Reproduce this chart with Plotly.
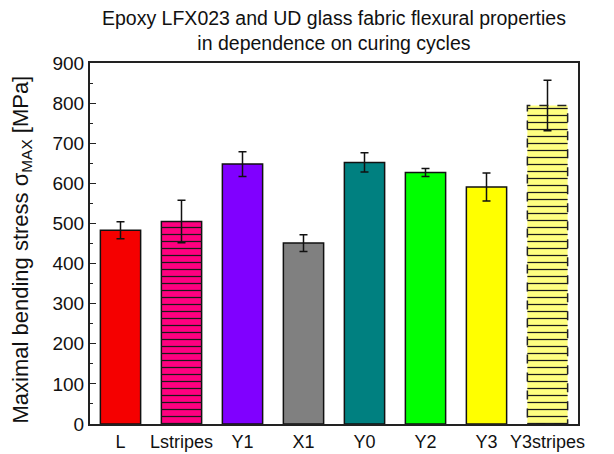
import plotly.graph_objects as go

categories = ["L", "Lstripes", "Y1", "X1", "Y0", "Y2", "Y3", "Y3stripes"]
values = [483, 505, 648, 451, 652, 627, 591, 794]
errors = [21, 53, 31, 21, 24, 10, 35, 63]
colors = ["#F50000", "#FF0080", "#8000FF", "#808080", "#008080", "#00FF00", "#FFFF00", "#FFFF80"]
striped = [False, True, False, False, False, False, False, True]
dashed = [False, False, False, False, False, False, False, True]
y_ticks = [0, 100, 200, 300, 400, 500, 600, 700, 800, 900]
title_text = "Epoxy LFX023 and UD glass fabric flexural properties<br>in dependence on curing cycles"
ytitle_text = "Maximal bending stress σ<sub>MAX</sub> [MPa]"

bar_w = 0.66
xs = list(range(len(categories)))

OFF = 8  # page body margin
W, H = 614 - OFF, 454 - OFF
L, R, T, B = 90 - OFF, 36, 63 - OFF, 30
pw, ph = W - L - R, H - T - B

fig = go.Figure()
fig.add_trace(go.Bar(
    x=xs, y=values, width=bar_w,
    marker=dict(
        color=colors,
        line=dict(color=["rgba(0,0,0,0)" if d else "#111" for d in dashed], width=1.5),
    ),
    showlegend=False,
))

# horizontal stripe overlay for striped bars
sx = [x for x, s in zip(xs, striped) if s]
sv = [v for v, s in zip(values, striped) if s]
fig.add_trace(go.Bar(
    x=sx, y=sv, width=bar_w,
    marker=dict(color="#1a1a1a", line=dict(width=0),
                pattern=dict(shape="-", fillmode="replace", size=7, solidity=0.18)),
    showlegend=False, hoverinfo="skip",
))

# error bars on top
fig.add_trace(go.Scatter(
    x=xs, y=values, mode="markers", marker=dict(size=0.1, color="rgba(0,0,0,0)"),
    error_y=dict(type="data", array=errors, color="#111", thickness=1.5, width=4),
    showlegend=False,
))

# dashed outline for striped Y3 bar
for i, d in enumerate(dashed):
    if d:
        fig.add_shape(type="rect", xref="x", yref="y",
                      x0=xs[i] - bar_w / 2, x1=xs[i] + bar_w / 2, y0=0, y1=values[i],
                      line=dict(color="#222", width=1.5, dash="dash"))

font = "Liberation Sans, Arial, sans-serif"
fig.update_layout(
    width=W, height=H, barmode="overlay",
    margin=dict(l=L, r=R, t=T, b=B, autoexpand=False),
    paper_bgcolor="white", plot_bgcolor="white",
    font=dict(family=font, color="#111", size=15),
)
fig.add_annotation(text=title_text, xref="paper", yref="paper",
                   x=0.5, y=1 + (63 - 31) / ph, xanchor="center", yanchor="middle",
                   showarrow=False, font=dict(size=19.5, family=font, color="#111"))
fig.add_annotation(text=ytitle_text, xref="paper", yref="paper", textangle=-90,
                   x=(21 - 90) / pw, y=0.5 - 6 / ph, xanchor="center", yanchor="middle",
                   showarrow=False, font=dict(size=22, family=font, color="#111"))
fig.update_xaxes(
    range=[-0.5, 7.5], tickvals=xs, ticktext=categories,
    showline=True, linecolor="#222", linewidth=2, mirror=True,
    ticks="", showgrid=False, zeroline=False, tickfont=dict(size=18), automargin=False,
)
fig.update_yaxes(
    range=[0, 900], tickvals=y_ticks,
    showline=True, linecolor="#222", linewidth=2, mirror=True,
    ticks="inside", ticklen=6, tickwidth=1.2, tickcolor="#222",
    minor=dict(ticks="inside", ticklen=3, tickwidth=1, tickcolor="#222", dtick=50, showgrid=False),
    showgrid=False, zeroline=False, tickfont=dict(size=19), automargin=False,
)

fig.write_html("out.html")
